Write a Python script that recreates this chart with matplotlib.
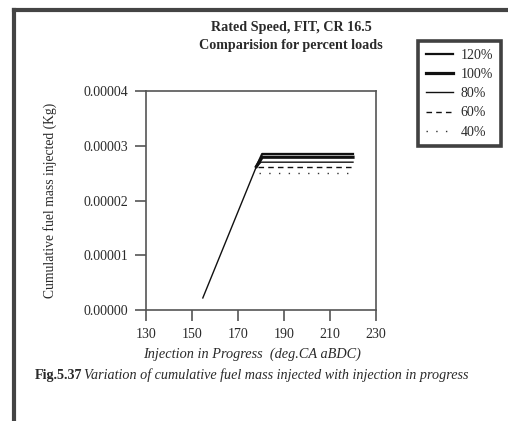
import matplotlib
matplotlib.use("Agg")
import matplotlib.pyplot as plt
from matplotlib.ticker import FormatStrFormatter
from matplotlib.lines import Line2D

plt.rcParams['font.family'] = ['Liberation Serif', 'DejaVu Serif']

# injection progress (deg CA aBDC) and cumulative fuel mass (kg) per load
x_120 = [178, 180.5, 220]
y_120 = [0.0000262, 0.0000285, 0.0000285]
x_100 = [178, 180.5, 220]
y_100 = [0.0000262, 0.0000279, 0.0000279]
x_80 = [154.7, 178, 180, 220]
y_80 = [0.0000022, 0.0000262, 0.0000270, 0.0000270]
x_60 = [178.5, 220]
y_60 = [0.0000261, 0.0000261]
x_40 = [179, 220]
y_40 = [0.000025, 0.000025]

labels = ["120%", "100%", "80%", "60%", "40%"]
xticks = [130, 150, 170, 190, 210, 230]
yticks = [0.0, 0.00001, 0.00002, 0.00003, 0.00004]

txt = "#2a2a2a"
W, H = 508, 421
fig = plt.figure(figsize=(W / 100, H / 100), dpi=100)
ax = fig.add_axes([146 / W, 1 - 310 / H, 230 / W, 219 / H])

ax.plot(x_120, y_120, color="#111111", lw=1.6, label=labels[0])
ax.plot(x_100, y_100, color="#111111", lw=2.3, label=labels[1])
ax.plot(x_80, y_80, color="#111111", lw=1.0, label=labels[2])
ax.plot(x_60, y_60, color="#111111", lw=1.0, ls=(0, (4, 3)), label=labels[3])
ax.plot(x_40, y_40, color="#333333", lw=1.0, ls=(0, (1, 6)), label=labels[4])

ax.set_xlim(130, 230)
ax.set_ylim(0, 0.00004)
ax.set_xticks(xticks)
ax.set_yticks(yticks)
ax.yaxis.set_major_formatter(FormatStrFormatter('%.5f'))
ax.tick_params(direction='out', length=8, width=1.2, colors="#555555",
               labelcolor=txt, labelsize=10, pad=5)
for s in ax.spines.values():
    s.set_color("#555555")
    s.set_linewidth(1.2)

ax.set_xlabel("Injection in Progress  (deg.CA aBDC)", style='italic',
              fontsize=10.3, color=txt)
ax.xaxis.set_label_coords((252 - 146) / 230, -(348 - 310) / 219)
ax.set_ylabel("Cumulative fuel mass injected (Kg)", fontsize=9.8, color=txt)
ax.yaxis.set_label_coords(-(146 - 57) / 230, 0.5)

fig.text(291 / W, 1 - 27 / H, "Rated Speed, FIT, CR 16.5", ha='center', va='center',
         fontsize=10.2, fontweight='bold', color=txt)
fig.text(291 / W, 1 - 45 / H, "Comparision for percent loads", ha='center', va='center',
         fontsize=10.2, fontweight='bold', color=txt)

leg = fig.legend(loc='upper left', bbox_to_anchor=(418 / W, 1 - 41 / H),
                 borderaxespad=0, fontsize=10, frameon=True, fancybox=False,
                 handlelength=2.0, labelspacing=0.45, borderpad=0.55,
                 handletextpad=0.5)
leg.get_frame().set_edgecolor("#111111")
leg.get_frame().set_linewidth(2.6)
for t in leg.get_texts():
    t.set_color(txt)

# caption
fig.text(35 / W, 1 - 375 / H, "Fig.5.37", ha='left', va='center', fontsize=10.2,
         fontweight='bold', color=txt)
fig.text(84 / W, 1 - 375 / H,
         "Variation of cumulative fuel mass injected with injection in progress",
         ha='left', va='center', fontsize=10.2, style='italic', color=txt)

# page frame
fig.add_artist(Line2D([14 / W, 14 / W], [0, 1 - 10 / H], color="#444444", lw=3))
fig.add_artist(Line2D([14 / W, 1], [1 - 10 / H, 1 - 10 / H], color="#444444", lw=3))

fig.savefig("out.png", dpi=100)
